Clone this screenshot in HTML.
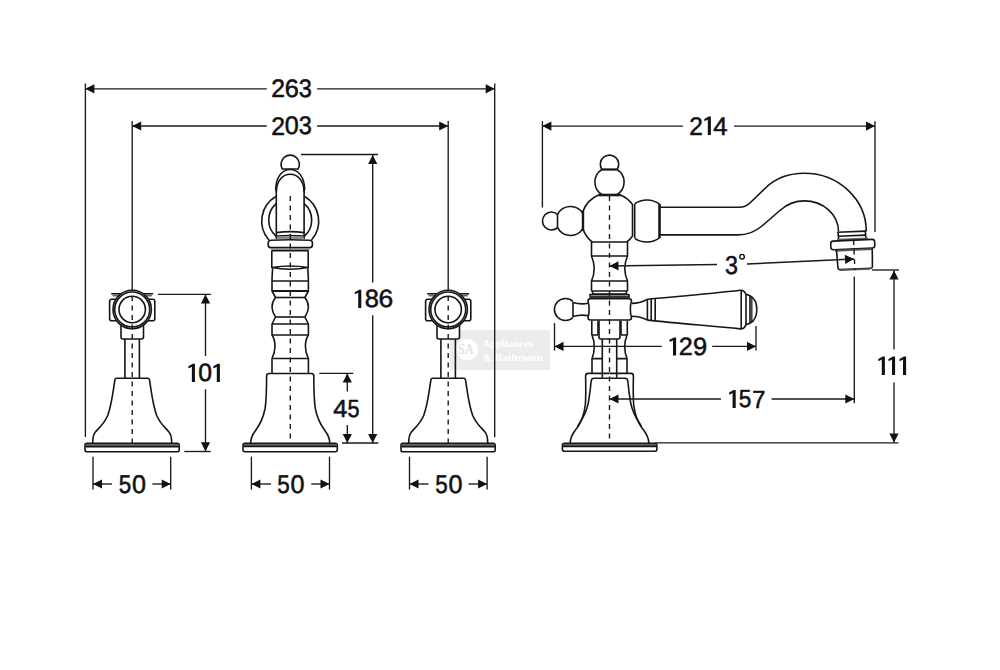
<!DOCTYPE html>
<html><head><meta charset="utf-8"><style>
html,body{margin:0;padding:0;background:#fff;}
svg{display:block;}
.o{fill:none;stroke:#161616;stroke-width:1.6;stroke-linejoin:round;stroke-linecap:butt;}
.d{stroke:#1a1a1a;stroke-width:1.35;}
.c{stroke:#1a1a1a;stroke-width:1.4;stroke-dasharray:5 4.5;}
.ah{fill:#111;stroke:none;}
.t{font-family:"Liberation Sans",sans-serif;fill:#111;stroke:#111;stroke-width:0.55;text-rendering:geometricPrecision;}
svg text{-webkit-font-smoothing:antialiased;}
</style></head><body>
<svg width="1000" height="670" viewBox="0 0 1000 670">
<rect width="1000" height="670" fill="#fff"/>
<rect x="449.8" y="330" width="100.2" height="40" fill="#ececec"/>
<circle cx="467.3" cy="349.7" r="10.8" fill="#ffffff"/>
<text x="458" y="354.4" font-family="Liberation Serif" font-weight="bold" font-size="14" fill="#e2e2e2" textLength="15.8" lengthAdjust="spacingAndGlyphs">SA</text>
<text x="482.4" y="346.7" font-family="Liberation Serif" font-weight="bold" font-size="11" fill="#ffffff" textLength="50.5" lengthAdjust="spacingAndGlyphs">Appliances</text>
<text x="482.4" y="360.8" font-family="Liberation Serif" font-weight="bold" font-size="11" fill="#ffffff" textLength="60.5" lengthAdjust="spacingAndGlyphs">&amp; Bathroom</text>
<g transform="translate(132.2,0)">
<line class="d" x1="0" y1="121" x2="0" y2="290.5"/>
<path class="o" d="M-13,299.3 L-20.5,299.3 Q-22.6,299.3 -22.6,301.4 L-22.6,318.8 Q-22.6,320.8 -20.5,320.8 L-13,320.8"/>
<path class="o" d="M13,299.3 L20.5,299.3 Q22.6,299.3 22.6,301.4 L22.6,318.8 Q22.6,320.8 20.5,320.8 L13,320.8"/>
<path class="o" d="M-21,293.8 L-11,293.8 M21,293.8 L11,293.8"/>
<path d="M-19.8,294.5 L-13.5,294.5 L-13.5,296.6 L-19.5,296.6 Z M19.8,294.5 L13.5,294.5 L13.5,296.6 L19.5,296.6 Z" fill="#666"/>
<path class="o" d="M-11.2,325 L-11.2,337 Q-11.2,339 -9.2,339 L9.3,339 Q11.3,339 11.3,337 L11.3,325" style="fill:#fff"/>
<circle class="o" cx="0" cy="309.5" r="19.2" style="fill:#fff"/>
<circle class="o" cx="0" cy="309.5" r="17.5"/>
<circle class="o" cx="0" cy="309.5" r="13.2"/>
<path class="o" d="M-7.3,339 L-7.3,378.3 M7.2,339 L7.2,378.3"/>
<path class="o" d="M-39.5,443.3 C-39.5,438 -39.3,435 -37,432.2 C-33.5,428 -28,424 -24.5,415.5 C-20.5,405 -19.3,392 -17.3,380 Q-17.1,378.3 -15.5,378.3 L15.5,378.3 Q17.1,378.3 17.3,380 C19.3,392 20.5,405 24.5,415.5 C28,424 33.5,428 37,432.2 C39.3,435 39.5,438 39.5,443.3"/>
<rect x="-47.2" y="443.3" width="94.2" height="8.5" rx="2" class="o" style="fill:#fff"/>
<rect x="-46.5" y="444" width="92.8" height="2.6" fill="#666"/>
<line class="o" x1="-47" y1="446.6" x2="47" y2="446.6"/>
<line class="c" x1="0" y1="296" x2="0" y2="444"/>
</g>
<g transform="translate(448.2,0)">
<line class="d" x1="0" y1="121" x2="0" y2="290.5"/>
<path class="o" d="M-13,299.3 L-20.5,299.3 Q-22.6,299.3 -22.6,301.4 L-22.6,318.8 Q-22.6,320.8 -20.5,320.8 L-13,320.8"/>
<path class="o" d="M13,299.3 L20.5,299.3 Q22.6,299.3 22.6,301.4 L22.6,318.8 Q22.6,320.8 20.5,320.8 L13,320.8"/>
<path class="o" d="M-21,293.8 L-11,293.8 M21,293.8 L11,293.8"/>
<path d="M-19.8,294.5 L-13.5,294.5 L-13.5,296.6 L-19.5,296.6 Z M19.8,294.5 L13.5,294.5 L13.5,296.6 L19.5,296.6 Z" fill="#666"/>
<path class="o" d="M-11.2,325 L-11.2,337 Q-11.2,339 -9.2,339 L9.3,339 Q11.3,339 11.3,337 L11.3,325" style="fill:#fff"/>
<circle class="o" cx="0" cy="309.5" r="19.2" style="fill:#fff"/>
<circle class="o" cx="0" cy="309.5" r="17.5"/>
<circle class="o" cx="0" cy="309.5" r="13.2"/>
<path class="o" d="M-7.3,339 L-7.3,378.3 M7.2,339 L7.2,378.3"/>
<path class="o" d="M-39.5,443.3 C-39.5,438 -39.3,435 -37,432.2 C-33.5,428 -28,424 -24.5,415.5 C-20.5,405 -19.3,392 -17.3,380 Q-17.1,378.3 -15.5,378.3 L15.5,378.3 Q17.1,378.3 17.3,380 C19.3,392 20.5,405 24.5,415.5 C28,424 33.5,428 37,432.2 C39.3,435 39.5,438 39.5,443.3"/>
<rect x="-47.2" y="443.3" width="94.2" height="8.5" rx="2" class="o" style="fill:#fff"/>
<rect x="-46.5" y="444" width="92.8" height="2.6" fill="#666"/>
<line class="o" x1="-47" y1="446.6" x2="47" y2="446.6"/>
<line class="c" x1="0" y1="296" x2="0" y2="444"/>
</g>
<g transform="translate(290.2,0)">
<path class="o" d="M-7.9,169 A9.2,9.2 0 1 1 7.9,169 Z"/>
<path class="o" d="M-14,196.2 A28.6,28.6 0 0 0 -21.3,240 M14,196.2 A28.6,28.6 0 0 1 21.3,240"/>
<path class="o" d="M-14,203.6 A21.7,21.7 0 0 0 -14,236.4 M14,203.6 A21.7,21.7 0 0 1 14,236.4"/>
<path class="o" d="M-14.5,190 C-14.5,177 -8,169.5 0,169.5 C8,169.5 14.5,177 14.5,190"/>
<path class="o" d="M-13.9,192 C-13.9,181 -7.5,174.2 0,174.2 C7.5,174.2 13.9,181 13.9,192"/>
<path class="o" d="M-13.9,186 L-13.9,239 M13.9,186 L13.9,239"/>
<path class="o" d="M-13.9,232.6 Q0,230.6 13.9,232.6 M-13.9,236 Q0,235 13.9,236"/>
<rect x="-13.5" y="236.5" width="27" height="2.4" fill="#888"/>
<path class="o" d="M-19.5,240.2 Q0,239.2 19.5,240.2 Q22.2,240.2 22.2,243 L22.2,245 Q22.2,247.6 19.5,247.6 L-19.5,247.6 Q-22,247.6 -22,245 L-22,243 Q-22,240.2 -19.5,240.2 Z" style="fill:#fff"/>
<path d="M-20,248 L20,248 L18.5,250.8 L-18.5,250.8 Z" fill="#888"/>
<path class="o" d="M-18.4,250.5 L-18.4,267.5 M18,250.5 L18,267.5 M-18.4,250.8 L18,250.8"/>
<path class="o" d="M-18.4,267.5 Q0,264.5 18,267.5 Q0,271 -18.4,267.5 Z"/>
<path class="o" d="M-17.6,268.3 C-17.6,270 -18.2,276 -18.2,281 L-18.2,291 L-14.7,297.5 C-17.5,301 -18.2,304 -18.2,307 C-18.2,310 -17.5,313 -14.7,317 L-18.2,324 L-18.2,335 C-15.5,339 -15.2,344 -15.2,346.5 C-15.2,350 -16,354 -18.2,358.5 L-18.2,373"/>
<path class="o" transform="scale(-1,1)" d="M-17.6,268.3 C-17.6,270 -18.2,276 -18.2,281 L-18.2,291 L-14.7,297.5 C-17.5,301 -18.2,304 -18.2,307 C-18.2,310 -17.5,313 -14.7,317 L-18.2,324 L-18.2,335 C-15.5,339 -15.2,344 -15.2,346.5 C-15.2,350 -16,354 -18.2,358.5 L-18.2,373"/>
<line class="o" x1="-18.2" y1="281" x2="18.2" y2="281"/>
<line class="o" x1="-18.2" y1="291" x2="18.2" y2="291"/>
<line class="o" x1="-14.7" y1="297.5" x2="14.7" y2="297.5"/>
<line class="o" x1="-14.7" y1="317" x2="14.7" y2="317"/>
<line class="o" x1="-18.2" y1="324" x2="18.2" y2="324"/>
<line class="o" x1="-18.2" y1="335" x2="18.2" y2="335"/>
<line class="o" x1="-18.2" y1="358.5" x2="18.2" y2="358.5"/>
<line class="o" x1="-18.2" y1="291" x2="18.2" y2="291" style="stroke-width:1.8"/>
<path class="o" d="M-39.6,443.3 C-39.6,438.5 -38,435 -35,431 C-30.5,425 -27,418 -25.2,409 C-24,402 -23.6,390 -23.6,376 Q-23.6,373.5 -21,373.5 L0,373.5"/>
<path class="o" transform="scale(-1,1)" d="M-39.6,443.3 C-39.6,438.5 -38,435 -35,431 C-30.5,425 -27,418 -25.2,409 C-24,402 -23.6,390 -23.6,376 Q-23.6,373.5 -21,373.5 L0,373.5"/>
<rect x="-47.2" y="443.3" width="94.3" height="8.4" rx="2" class="o" style="fill:#fff"/>
<rect x="-46.5" y="444" width="92.8" height="2.4" fill="#666"/>
<line class="o" x1="-47" y1="446.4" x2="47" y2="446.4"/>
<line class="c" x1="0.1" y1="196" x2="0.1" y2="444"/>
</g>
<path class="o" d="M601.9,169.5 A9.2,9.2 0 1 1 617.1,169.5 Z"/>
<path class="o" d="M601.96,169.5 A14.6,14.6 0 0 0 602.3,194.7 M617.04,169.5 A14.6,14.6 0 0 1 616.7,194.7"/>
<line class="o" x1="601.5" y1="169.5" x2="617.5" y2="169.5" style="stroke-width:2"/>
<path class="o" d="M598.5,195 A28,28 0 0 0 583,211.3 L583,229 A28,28 0 0 0 592.2,242 L626.8,242 A28,28 0 0 0 632.5,236 L632.5,204.5 A28,28 0 0 0 620.5,195 Z"/>
<line class="o" x1="598.5" y1="195" x2="620.5" y2="195" style="stroke-width:2.6"/>
<line class="o" x1="583" y1="210.5" x2="583" y2="231" style="stroke-width:2.4"/>
<line class="o" x1="634.7" y1="204" x2="634.7" y2="238"/>
<path class="o" d="M557.5,214.3 A9,9 0 1 0 557.5,227.7"/>
<path class="o" d="M557.5,214.6 A14.5,14.5 0 0 1 583,213.65 M557.5,227.4 A14.5,14.5 0 0 0 583,228.35"/>
<line class="o" x1="557.5" y1="214.3" x2="557.5" y2="227.7"/>
<path class="o" d="M634.7,203.6 A21.5,21.5 0 0 1 659.5,204.2 M634.7,238.4 A21.5,21.5 0 0 0 659.5,237.8"/>
<line class="o" x1="659.5" y1="204" x2="659.5" y2="238" style="stroke-width:2.6"/>
<path class="o" d="M660,207.3 L739,207.3 C744.5,207.3 748,205.2 751,202 L766,187.5 C775,179 788,173.3 804.3,173.3 A62,58.2 0 0 1 866.3,231.6"/>
<path class="o" d="M660,234.9 L738,234.9 C747,234.9 755,232 762,226 L780.5,210 C788,203.5 795,200.9 804.3,200.9 A34.2,30.4 0 0 1 838.5,231.3"/>
<g transform="rotate(-2.5,854,250)">
<path class="o" d="M838.5,231.6 L866.3,231.6 M838.5,235.6 L866.3,235.6"/>
<path class="o" d="M838.7,231 L839.2,239 M866,231 L866.5,239"/>
<rect x="837.5" y="238" width="31" height="2.2" fill="#666"/>
<rect class="o" x="831" y="240.2" width="44" height="8.6" rx="2.5" style="fill:#fff"/>
<rect x="835" y="249" width="37" height="1.8" fill="#555"/>
<path class="o" d="M836.5,249 L837.2,267.3 Q837.3,269 839,269 L870,269 Q871.6,269 871.7,267.3 L872.3,249"/>
<rect x="839" y="268.6" width="30" height="1.8" fill="#555"/>
<line class="c" x1="854" y1="240" x2="854" y2="270" />
</g>
<path class="o" d="M591.5,242 L591.5,256 C593.7,261 594.2,265 594.2,268.5 C594.2,272 593.7,276 591.5,281 L591.5,291 M627.5,242 L627.5,256 C625.3,261 624.8,265 624.8,268.5 C624.8,272 625.3,276 627.5,281 L627.5,291"/>
<path class="o" d="M591.5,256 L627.5,256 M591.5,281 L627.5,281 M591.5,291 L627.5,291"/>
<path class="o" d="M592.5,291 L592.5,292.5 Q592.5,294 594,294 L625,294 Q626.5,294 626.5,292.5 L626.5,291"/>
<path class="o" d="M590,296 L590,294.6 L629,294.6 L629,296"/>
<rect x="589.3" y="296" width="40.7" height="3" fill="#333"/>
<path class="o" d="M590.5,298.8 L629,298.8 Q631.5,298.8 631.5,301.2 C630,305 630,314 631.5,317.6 Q631.5,320 629,320 L590.5,320 Q588,320 588,317.6 C589.5,314 589.5,305 588,301.2 Q588,298.8 590.5,298.8 Z" style="fill:#fff"/>
<path class="o" d="M573,301.5 A11,11 0 1 0 573,317.5"/>
<path class="o" d="M573,302.4 Q580.5,304.8 588.5,303.2 M573,316.6 Q580.5,314.2 588.5,315.6 M573,302 L573,317"/>
<path class="o" d="M631.8,303.4 C638,303.2 643,301.8 647.4,299.2 M631.8,316.3 C638,316.5 643,317.8 647.4,320.1"/>
<path class="o" d="M647.4,299.3 L647.4,320.2 M651.2,298.9 L651.2,320.6 M655.2,298.6 L655.2,321"/>
<path class="o" d="M647.4,299.2 C680,296.2 712,293.6 740.5,290.3 Q743.8,289.9 746,294.3 L750,295.7 M647.4,320.1 C680,323.5 712,326 740.5,328.9 Q743.8,329.3 746,324.8 L750,323.2"/>
<path class="o" d="M741.2,290.5 L741.2,328.7 M746,294.3 L746,324.8 M750,295.7 L750,323.2"/>
<path d="M750.6,296.6 L752.6,297.8 L752.6,321.2 L750.6,322.4 Z" fill="#444"/>
<path class="o" d="M750,295.7 C754.2,298 756.8,303 756.8,309.5 C756.8,316 754.2,321 750,323.2"/>
<path class="o" d="M591.8,320.5 L591.8,335 M598,321 L598,335 M621,321 L621,335 M627.3,320.5 L627.3,335 M591.8,335 L598,335 M621,335 L627.3,335"/>
<path class="o" d="M599,320.5 L599,337 Q599,339 601,339 L618,339 Q620,339 620,337 L620,320.5"/>
<path class="o" d="M602.3,339 L602.3,377.8 M616.7,339 L616.7,377.8"/>
<path class="o" d="M592,335 C594,340 594.3,344 594.3,346.8 C594.3,350 593.8,354 592,358.6 L592,373 M627,335 C625,340 624.7,344 624.7,346.8 C624.7,350 625.2,354 627,358.6 L627,373"/>
<path class="o" d="M592,358.6 L602.3,358.6 M616.7,358.6 L627,358.6"/>
<path class="o" d="M570.2,443.3 C570.2,436 574,432 577,428 C581,422.5 584,415 585.3,405 C586,397 585.8,385 585.6,376 Q585.6,373.4 588,373.4 L609.5,373.4"/>
<path class="o" transform="translate(1219,0) scale(-1,1)" d="M570.2,443.3 C570.2,436 574,432 577,428 C581,422.5 584,415 585.3,405 C586,397 585.8,385 585.6,376 Q585.6,373.4 588,373.4 L609.5,373.4"/>
<path class="o" d="M577.5,426.5 C581.8,420 586.5,413 588.3,403 C589.5,396 590.5,388 591.2,381 Q591.5,378.3 594,378.3 L609.5,378.3"/>
<path class="o" transform="translate(1219,0) scale(-1,1)" d="M577.5,426.5 C581.8,420 586.5,413 588.3,403 C589.5,396 590.5,388 591.2,381 Q591.5,378.3 594,378.3 L609.5,378.3"/>
<rect x="562.4" y="443.3" width="94.5" height="8" rx="2" class="o" style="fill:#fff"/>
<rect x="563" y="444" width="93.3" height="2.3" fill="#666"/>
<line class="o" x1="562.6" y1="446.4" x2="656.7" y2="446.4"/>
<line class="c" x1="609.5" y1="196" x2="609.5" y2="444"/>
<line class="d" x1="85.4" y1="83.5" x2="85.4" y2="437"/>
<line class="d" x1="494.7" y1="83.5" x2="494.7" y2="437.3"/>
<line class="d" x1="85.4" y1="88.8" x2="266.8" y2="88.8"/>
<line class="d" x1="317.1" y1="88.8" x2="494.7" y2="88.8"/>
<path class="ah" d="M85.40,88.80 L94.40,84.20 L94.40,93.40 Z"/>
<path class="ah" d="M494.70,88.80 L485.70,93.40 L485.70,84.20 Z"/>
<text class="t" transform="translate(272.57,97.40) scale(0.9765,1)" x="-1.27" y="0" font-size="25.32">2</text><text class="t" transform="translate(286.07,97.15) scale(1.0003,1)" x="-1.27" y="0" font-size="25.32">6</text><text class="t" transform="translate(299.67,97.15) scale(0.9286,1)" x="-1.01" y="0" font-size="25.32">3</text>
<line class="d" x1="132.2" y1="126" x2="266.8" y2="126"/>
<line class="d" x1="317.1" y1="126" x2="448.2" y2="126"/>
<path class="ah" d="M132.20,126.00 L141.20,121.40 L141.20,130.60 Z"/>
<path class="ah" d="M448.20,126.00 L439.20,130.60 L439.20,121.40 Z"/>
<text class="t" transform="translate(272.57,134.70) scale(0.9711,1)" x="-1.27" y="0" font-size="25.46">2</text><text class="t" transform="translate(285.77,134.44) scale(0.9881,1)" x="-1.02" y="0" font-size="25.46">0</text><text class="t" transform="translate(299.67,134.44) scale(0.9234,1)" x="-1.02" y="0" font-size="25.46">3</text>
<line class="d" x1="301" y1="154.5" x2="378" y2="154.5"/>
<line class="d" x1="342" y1="443" x2="378.4" y2="443"/>
<line class="d" x1="372.7" y1="155" x2="372.7" y2="282.5"/>
<line class="d" x1="372.7" y1="315.2" x2="372.7" y2="443"/>
<path class="ah" d="M372.70,155.00 L377.30,164.00 L368.10,164.00 Z"/>
<path class="ah" d="M372.70,443.00 L368.10,434.00 L377.30,434.00 Z"/>
<path fill="#111" d="M361.30,289.70 L361.30,307.90 L358.20,307.90 L358.20,292.70 L355.45,294.10 Q354.85,294.20 354.75,293.60 L354.65,292.60 Q354.65,292.10 355.15,291.90 L359.15,289.70 Z"/><text class="t" transform="translate(365.88,307.25) scale(1.0156,1)" x="-1.13" y="0" font-size="25.04">8</text><text class="t" transform="translate(379.77,307.25) scale(1.0550,1)" x="-1.25" y="0" font-size="25.04">6</text>
<line class="d" x1="319.3" y1="373.4" x2="353.3" y2="373.4"/>
<line class="d" x1="347.3" y1="373.4" x2="347.3" y2="391.6"/>
<line class="d" x1="347.3" y1="425" x2="347.3" y2="443"/>
<path class="ah" d="M347.30,373.40 L351.90,382.40 L342.70,382.40 Z"/>
<path class="ah" d="M347.30,443.00 L342.70,434.00 L351.90,434.00 Z"/>
<text class="t" transform="translate(333.97,417.40) scale(1.0221,1)" x="-0.62" y="0" font-size="24.75">4</text><text class="t" transform="translate(348.38,417.15) scale(0.8718,1)" x="-0.99" y="0" font-size="24.75">5</text>
<line class="d" x1="158" y1="294.3" x2="211" y2="294.3"/>
<line class="d" x1="184.3" y1="451.5" x2="210.8" y2="451.5"/>
<line class="d" x1="205.5" y1="294.5" x2="205.5" y2="356"/>
<line class="d" x1="205.5" y1="389.3" x2="205.5" y2="451.3"/>
<path class="ah" d="M205.50,294.50 L210.10,303.50 L200.90,303.50 Z"/>
<path class="ah" d="M205.50,451.30 L200.90,442.30 L210.10,442.30 Z"/>
<path fill="#111" d="M194.95,363.80 L194.95,382.00 L191.85,382.00 L191.85,366.80 L189.10,368.20 Q188.50,368.30 188.40,367.70 L188.30,366.70 Q188.30,366.20 188.80,366.00 L192.80,363.80 Z"/><text class="t" transform="translate(199.28,381.35) scale(0.9881,1)" x="-1.00" y="0" font-size="25.04">0</text><path fill="#111" d="M219.90,363.80 L219.90,382.00 L216.80,382.00 L216.80,366.80 L214.05,368.20 Q213.45,368.30 213.35,367.70 L213.25,366.70 Q213.25,366.20 213.75,366.00 L217.75,363.80 Z"/>
<line class="d" x1="93" y1="456.7" x2="93" y2="489.6"/>
<line class="d" x1="170.7" y1="456.7" x2="170.7" y2="489.6"/>
<line class="d" x1="93" y1="484" x2="112" y2="484"/>
<line class="d" x1="152.4" y1="484" x2="170.7" y2="484"/>
<path class="ah" d="M93.00,484.00 L102.00,479.40 L102.00,488.60 Z"/>
<path class="ah" d="M170.70,484.00 L161.70,488.60 L161.70,479.40 Z"/>
<text class="t" transform="translate(119.62,492.54) scale(0.8757,1)" x="-1.02" y="0" font-size="25.60">5</text><text class="t" transform="translate(132.93,492.54) scale(0.9826,1)" x="-1.02" y="0" font-size="25.60">0</text>
<line class="d" x1="251.4" y1="456.7" x2="251.4" y2="489.6"/>
<line class="d" x1="329.5" y1="456.7" x2="329.5" y2="489.6"/>
<line class="d" x1="251.4" y1="484" x2="271" y2="484"/>
<line class="d" x1="311.2" y1="484" x2="329.5" y2="484"/>
<path class="ah" d="M251.40,484.00 L260.40,479.40 L260.40,488.60 Z"/>
<path class="ah" d="M329.50,484.00 L320.50,488.60 L320.50,479.40 Z"/>
<text class="t" transform="translate(278.22,492.54) scale(0.8757,1)" x="-1.02" y="0" font-size="25.60">5</text><text class="t" transform="translate(291.52,492.54) scale(0.9826,1)" x="-1.02" y="0" font-size="25.60">0</text>
<line class="d" x1="409.5" y1="456.7" x2="409.5" y2="489.6"/>
<line class="d" x1="487.1" y1="456.7" x2="487.1" y2="489.6"/>
<line class="d" x1="409.5" y1="484" x2="428.5" y2="484"/>
<line class="d" x1="468.5" y1="484" x2="487.1" y2="484"/>
<path class="ah" d="M409.50,484.00 L418.50,479.40 L418.50,488.60 Z"/>
<path class="ah" d="M487.10,484.00 L478.10,488.60 L478.10,479.40 Z"/>
<text class="t" transform="translate(436.07,492.54) scale(0.8757,1)" x="-1.02" y="0" font-size="25.60">5</text><text class="t" transform="translate(449.38,492.54) scale(0.9826,1)" x="-1.02" y="0" font-size="25.60">0</text>
<line class="d" x1="542.4" y1="121" x2="542.4" y2="207.5"/>
<line class="d" x1="875" y1="121.2" x2="875" y2="232"/>
<line class="d" x1="542.4" y1="126.1" x2="683" y2="126.1"/>
<line class="d" x1="734" y1="126.1" x2="875" y2="126.1"/>
<path class="ah" d="M542.40,126.10 L551.40,121.50 L551.40,130.70 Z"/>
<path class="ah" d="M875.00,126.10 L866.00,130.70 L866.00,121.50 Z"/>
<text class="t" transform="translate(690.57,134.70) scale(0.9625,1)" x="-1.27" y="0" font-size="25.46">2</text><path fill="#111" d="M710.90,116.60 L710.90,135.10 L707.80,135.10 L707.80,119.60 L705.05,121.00 Q704.45,121.10 704.35,120.50 L704.25,119.50 Q704.25,119.00 704.75,118.80 L708.75,116.60 Z"/><text class="t" transform="translate(713.88,134.70) scale(1.0094,1)" x="-0.64" y="0" font-size="25.46">4</text>
<line class="d" x1="609.5" y1="266" x2="717" y2="264.5"/>
<path class="ah" d="M609.50,266.00 L618.43,261.27 L618.56,270.47 Z"/>
<line class="d" x1="747" y1="264" x2="854" y2="259"/>
<path class="ah" d="M854.00,259.00 L845.22,264.02 L844.80,254.83 Z"/>
<text class="t" transform="translate(725.88,273.54) scale(0.9000,1)" x="-1.04" y="0" font-size="25.89">3</text>
<circle cx="742.05" cy="256.7" r="2.3" fill="none" stroke="#111" style="stroke-width:1.4"/>
<line class="d" x1="554.5" y1="323" x2="554.5" y2="350.6"/>
<line class="d" x1="756" y1="326" x2="756" y2="350.6"/>
<line class="d" x1="554.5" y1="346.4" x2="661.7" y2="346.4"/>
<line class="d" x1="712.2" y1="346.4" x2="756" y2="346.4"/>
<path class="ah" d="M554.50,346.40 L563.50,341.80 L563.50,351.00 Z"/>
<path class="ah" d="M756.00,346.40 L747.00,351.00 L747.00,341.80 Z"/>
<path fill="#111" d="M676.10,337.40 L676.10,355.60 L673.00,355.60 L673.00,340.40 L670.25,341.80 Q669.65,341.90 669.55,341.30 L669.45,340.30 Q669.45,339.80 669.95,339.60 L673.95,337.40 Z"/><text class="t" transform="translate(680.07,355.20) scale(1.0052,1)" x="-1.25" y="0" font-size="25.04">2</text><text class="t" transform="translate(694.07,354.95) scale(1.0179,1)" x="-1.13" y="0" font-size="25.04">9</text>
<line class="d" x1="854.3" y1="276.4" x2="854.3" y2="403.3"/>
<line class="d" x1="609.5" y1="399" x2="720.9" y2="399"/>
<line class="d" x1="771.6" y1="399" x2="854.3" y2="399"/>
<path class="ah" d="M609.50,399.00 L618.50,394.40 L618.50,403.60 Z"/>
<path class="ah" d="M854.30,399.00 L845.30,403.60 L845.30,394.40 Z"/>
<path fill="#111" d="M735.70,390.10 L735.70,408.10 L732.60,408.10 L732.60,393.10 L729.85,394.50 Q729.25,394.60 729.15,394.00 L729.05,393.00 Q729.05,392.50 729.55,392.30 L733.55,390.10 Z"/><text class="t" transform="translate(739.57,407.45) scale(0.9143,1)" x="-0.99" y="0" font-size="24.75">5</text><text class="t" transform="translate(753.48,407.70) scale(0.9545,1)" x="-1.24" y="0" font-size="24.75">7</text>
<line class="d" x1="872" y1="270" x2="899" y2="270"/>
<line class="d" x1="655" y1="442.8" x2="898.5" y2="442.8"/>
<line class="d" x1="894" y1="270.5" x2="894" y2="349.6"/>
<line class="d" x1="894" y1="382.4" x2="894" y2="442.5"/>
<path class="ah" d="M894.00,270.50 L898.60,279.50 L889.40,279.50 Z"/>
<path class="ah" d="M894.00,442.50 L889.40,433.50 L898.60,433.50 Z"/>
<path fill="#111" d="M884.90,356.60 L884.90,374.90 L881.80,374.90 L881.80,359.60 L879.05,361.00 Q878.45,361.10 878.35,360.50 L878.25,359.50 Q878.25,359.00 878.75,358.80 L882.75,356.60 Z"/><path fill="#111" d="M895.10,356.60 L895.10,374.90 L892.00,374.90 L892.00,359.60 L889.25,361.00 Q888.65,361.10 888.55,360.50 L888.45,359.50 Q888.45,359.00 888.95,358.80 L892.95,356.60 Z"/><path fill="#111" d="M906.10,356.60 L906.10,374.90 L903.00,374.90 L903.00,359.60 L900.25,361.00 Q899.65,361.10 899.55,360.50 L899.45,359.50 Q899.45,359.00 899.95,358.80 L903.95,356.60 Z"/>
</svg>
</body></html>
